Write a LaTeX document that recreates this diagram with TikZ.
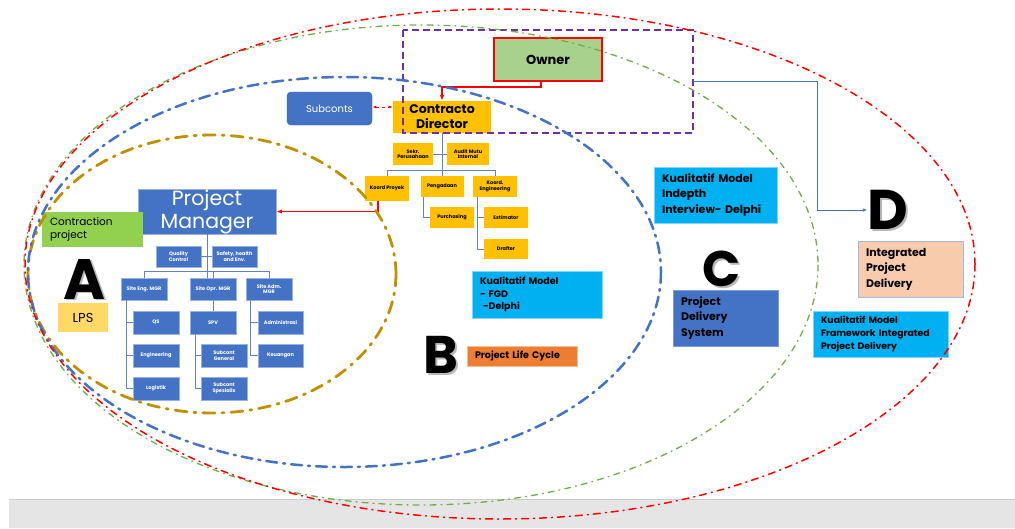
\documentclass[tikz,border=0pt]{standalone}
\usepackage{fontspec}
\setmainfont{Poppins}
\usetikzlibrary{arrows.meta}

\definecolor{ppblue}{RGB}{68,114,196}
\definecolor{ppline}{RGB}{100,130,190}
\definecolor{ppgold}{RGB}{191,144,0}
\definecolor{ppgreen}{RGB}{112,173,71}
\definecolor{pppurple}{RGB}{112,48,160}
\definecolor{ppyellow}{RGB}{255,192,0}
\definecolor{ppcyan}{RGB}{0,176,240}
\definecolor{pppeach}{RGB}{248,203,173}
\definecolor{pplime}{RGB}{146,208,80}
\definecolor{ppowner}{RGB}{169,209,142}
\definecolor{pplps}{RGB}{255,217,102}
\definecolor{pplife}{RGB}{237,125,49}

\begin{document}
\begin{tikzpicture}[x=1pt, y=-1pt, >={Latex[length=2mm]},
  ybox/.style={fill=ppyellow, inner sep=0pt, align=center,
    font=\fontsize{5}{5.6}\selectfont\bfseries},
  bbox/.style={fill=ppblue, draw=ppblue!55, line width=0.5pt, text=white,
    inner sep=0pt, align=center, font=\fontsize{5}{5.6}\selectfont\bfseries},
  tbox/.style={inner xsep=8pt, inner ysep=0pt, align=left},
  orgline/.style={draw=ppline, line width=0.6pt},
  redarrow/.style={draw=red, line width=1.6pt, ->},
  bigletter/.style={inner sep=0pt, font=\fontsize{#1}{#1}\selectfont\bfseries},
  ring/.style={line width=#1, line cap=round}
]
  \useasboundingbox (0,0) rectangle (1015,528);
  \fill[white] (0,0) rectangle (1015,528);
  \fill[gray!20] (9,499) rectangle (1015,528);
  \draw[gray!40] (9,499) -- (1015,499);

  % top of the chart
  \node[fill=ppowner, draw=red, line width=2pt, minimum width=108, minimum height=43,
    font=\fontsize{13}{13}\selectfont\bfseries] (owner) at (548,59.5) {Owner};
  \node[fill=ppyellow, inner sep=0pt, minimum width=98, minimum height=32, align=center,
    font=\fontsize{12.5}{15}\selectfont\bfseries] (director) at (442,117) {Contracto\\Director};
  \node[fill=ppblue, draw=ppblue!80!black, rounded corners=4pt, text=white, minimum width=85,
    minimum height=33, font=\fontsize{10}{10}\selectfont] (subconts) at (329.5,108.5) {Subconts};

  \foreach \n/\x/\y/\w/\h/\txt in {
    sekr/413/154/40/22/{Sekr.\\Perusahaan},
    audit/468/154/42/22/{Audit Mutu\\Internal},
    kproyek/387/188.5/44/25/{Koord Proyek},
    pengadaan/442/186.5/43/21/{Pengadaan},
    keng/495/186.5/44/21/{Koord.\\Engineering},
    purch/452/217.5/44/21/{Purchasing},
    estim/506/217.5/44/21/{Estimator},
    drafter/506/249/44/20/{Drafter}}
    \node[ybox, minimum width=\w, minimum height=\h] (\n) at (\x,\y) {\txt};

  \draw[orgline] (director.south) -- (pengadaan.north);
  \draw[orgline] (kproyek.north) -- ++(0,-6) -| (keng.north);
  \draw[orgline] (sekr.east) -- (audit.west);
  \draw[orgline] ([xshift=-19pt]pengadaan.south) |- (purch.west);
  \foreach \k in {estim,drafter}
    \draw[orgline] ([xshift=-18pt]keng.south) |- (\k.west);

  % project manager side
  \node[fill=ppblue, draw=ppblue!55, minimum width=138, minimum height=45, inner sep=0pt,
    text=white, align=center, font=\fontsize{20.5}{23}\selectfont] (pm) at (207,211.5) {Project\\Manager};

  \foreach \n/\x/\y/\w/\h/\txt in {
    qc/178.5/256.5/45/21/{Quality\\Control},
    safety/234.5/256.5/45/21/{Safety, health\\and Env.},
    seng/144/289/46/22/{Site Eng. MGR},
    sopr/213/289/46/22/{Site Opr. MGR},
    sadm/269/289/46/22/{Site Adm.\\MGR},
    qs/156/322.5/46/23/{QS},
    engg/156/355.5/46/23/{Engineering},
    logistik/156/388.5/46/23/{Logistik},
    spv/213/322.5/46/23/{SPV},
    subgen/224/355.5/46/23/{Subcont\\General},
    subspes/224/388.5/46/23/{Subcont\\Spesialis},
    admin/280.5/322.5/45/23/{Administrasi},
    keu/280.5/355.5/45/23/{Keuangan}}
    \node[bbox, minimum width=\w, minimum height=\h] (\n) at (\x,\y) {\txt};

  \draw[orgline] (pm.south) -- (pm.south |- seng.north);
  \draw[orgline] (seng.north) -- ++(0,-6) -| (sadm.north);
  \draw[orgline] (sopr.north) -- ++(0,-6);
  \draw[orgline] (qc.east) -- (safety.west);
  \draw[orgline] (sopr.south) -- (spv.north);
  \foreach \k in {qs,engg,logistik}
    \draw[orgline] ([xshift=-18pt]seng.south) |- (\k.west);
  \foreach \k in {subgen,subspes}
    \draw[orgline] ([xshift=-18pt]spv.south) |- (\k.west);
  \foreach \k in {admin,keu}
    \draw[orgline] ([xshift=-19pt]sadm.south) |- (\k.west);

  % red links
  \draw[redarrow] ([xshift=-7pt]owner.south) -- ++(0,5) -| (director.north);
  \draw[redarrow] ([xshift=-9pt]kproyek.south) |- (pm.east);
  \draw[draw=red, line width=1pt, dashed, {Latex[length=1.5mm]}-{Latex[length=1.5mm]}]
    ([yshift=1.5pt]subconts.east) -- ([yshift=1.5pt]subconts.east -| director.west);

  % labels and notes
  \node[tbox, fill=pplime, text width=85, minimum height=35,
    font=\fontsize{10.5}{13}\selectfont] (contraction) at (92.5,229.5) {Contraction\\project};
  \node[fill=pplps, minimum width=50, minimum height=29, inner sep=0pt,
    font=\fontsize{13}{13}\selectfont] (lps) at (83,317.5) {LPS};
  \node[tbox, fill=ppcyan, draw=ppcyan!50!white, text width=114, minimum height=47,
    font=\fontsize{9.5}{12.5}\selectfont\bfseries] (fgd) at (537,294.5) {Kualitatif Model\\- FGD\\\ -Delphi};
  \node[tbox, fill=pplife, draw=pplife!50!white, text width=94, minimum height=20,
    font=\fontsize{9.5}{10}\selectfont\bfseries] (life) at (522,356) {Project Life Cycle};
  \node[tbox, fill=ppcyan, draw=ppcyan!50!white, text width=107, minimum height=56,
    font=\fontsize{11}{15.5}\selectfont\bfseries] (indepth) at (715.5,195) {Kualitatif Model\\Indepth\\Interview- Delphi};
  \node[tbox, fill=ppblue, draw=ppblue!70, text width=89, minimum height=56,
    font=\fontsize{11}{15.5}\selectfont\bfseries] (pds) at (725.5,318) {Project\\Delivery\\System};
  \node[tbox, fill=pppeach, draw=ppblue!50, text width=89, minimum height=56,
    font=\fontsize{11}{15.5}\selectfont\bfseries] (ipd) at (910.5,269) {Integrated\\Project\\Delivery};
  \node[tbox, fill=ppcyan, draw=ppcyan!50!white, text width=119, minimum height=46,
    font=\fontsize{9.3}{13}\selectfont\bfseries] (framework) at (880.5,334) {Kualitatif Model\\Framework Integrated\\Project Delivery};

  % big letters
  \foreach \n/\x/\y/\s/\txt in {la/85/279/57/A, lb/441/355/53/B, lc/722/269/50/C, ld/888/210/56/D}{
    \node[bigletter=\s, text=gray!55] (\n-s) at (\x+1.5,\y+1.5) {\txt};
    \node[bigletter=\s] (\n) at (\x,\y) {\txt};
  }

  % scope boxes and rings
  \draw[pppurple, line width=1.5pt, dash pattern=on 7pt off 4pt] (403,30) rectangle (693,133);
  \coordinate (scope) at (693,81);
  \draw[ppblue, line width=0.9pt, ->, >={Latex[length=1.6mm]}] (scope) -| ([xshift=-50pt]ld.west) -- (ld.west);

  \draw[ring=2.8pt, ppgold, dash pattern=on 12pt off 7pt on 2pt off 7pt] (212,274) ellipse [x radius=184, y radius=139];
  \draw[ring=2.5pt, ppblue, dash pattern=on 11pt off 6pt on 2pt off 6pt] (344.5,272) ellipse [x radius=316.5, y radius=195];
  \draw[ring=1.3pt, ppgreen, dash pattern=on 6pt off 5pt on 1pt off 5pt] (421,265) ellipse [x radius=397, y radius=240];
  \draw[ring=1.5pt, red, dash pattern=on 7pt off 5pt on 1pt off 5pt] (500,264) ellipse [x radius=475, y radius=255];
\end{tikzpicture}
\end{document}
